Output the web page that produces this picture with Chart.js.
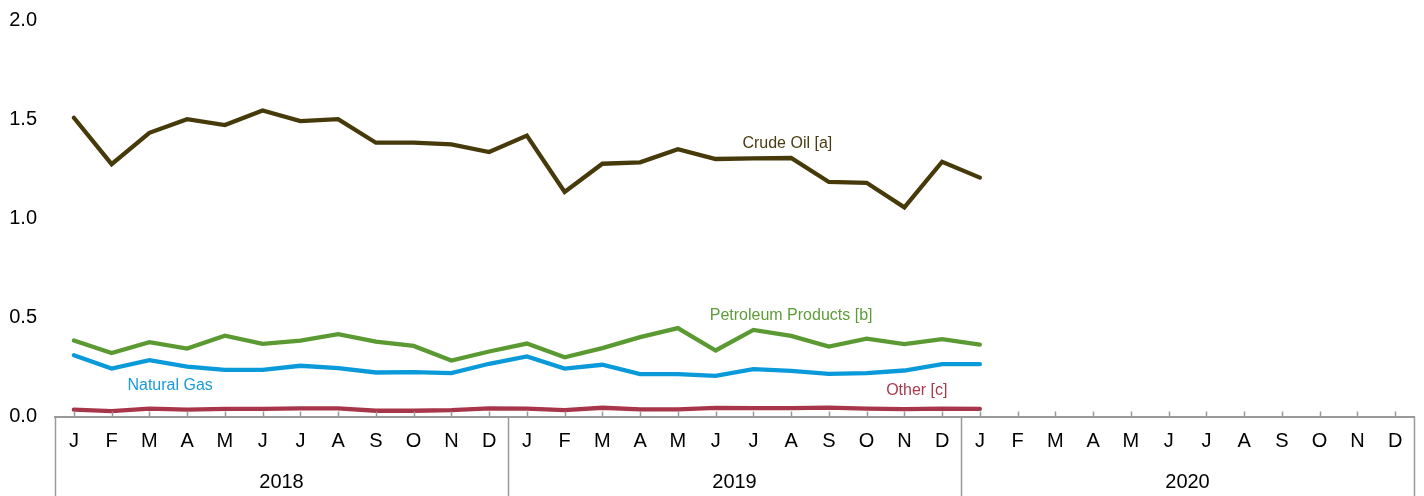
<!DOCTYPE html>
<html>
<head>
<meta charset="utf-8">
<script src="https://cdn.jsdelivr.net/npm/chart.js@4.4.1/dist/chart.umd.min.js"></script>
<style>
  html, body { margin: 0; padding: 0; background: #fff; }
  #wrap { width: 1424px; height: 496px; }
</style>
</head>
<body>
<div id="wrap"><canvas id="c" width="1424" height="496"></canvas></div>
<script>
const monthLetters = ['J','F','M','A','M','J','J','A','S','O','N','D'];
const years = ['2018', '2019', '2020'];
const categories = [];
years.forEach(y => monthLetters.forEach(m => categories.push(m)));

const crudeOil = [1.507, 1.273, 1.431, 1.500, 1.470, 1.544, 1.490, 1.500, 1.381, 1.381, 1.373, 1.334,
                  1.417, 1.133, 1.275, 1.282, 1.348, 1.299, 1.302, 1.304, 1.183, 1.179, 1.055, 1.285,
                  1.205];
const petroleumProducts = [0.383, 0.320, 0.375, 0.343, 0.408, 0.366, 0.383, 0.415, 0.378, 0.356, 0.282, 0.328,
                  0.368, 0.299, 0.345, 0.400, 0.446, 0.333, 0.437, 0.407, 0.353, 0.393, 0.365, 0.390,
                  0.363];
const naturalGas = [0.309, 0.242, 0.284, 0.252, 0.235, 0.235, 0.256, 0.244, 0.222, 0.224, 0.219, 0.266,
                  0.303, 0.242, 0.261, 0.214, 0.214, 0.205, 0.239, 0.230, 0.215, 0.219, 0.232, 0.264,
                  0.264];
const other = [0.035, 0.027, 0.040, 0.035, 0.038, 0.038, 0.041, 0.041, 0.029, 0.029, 0.032, 0.041,
               0.040, 0.032, 0.044, 0.036, 0.036, 0.044, 0.042, 0.042, 0.045, 0.040, 0.037, 0.040,
               0.038];
const yTicks = [0, 0.5, 1.0, 1.5, 2.0];

const seriesLabels = [
  { text: 'Crude Oil [a]', color: '#4a3c12', x: 18.9, y: 1.375 },
  { text: 'Petroleum Products [b]', color: '#5e9c38', x: 19.0, y: 0.507 },
  { text: 'Natural Gas', color: '#1a9ad8', x: 2.55, y: 0.155 },
  { text: 'Other [c]', color: '#a83a4e', x: 22.33, y: 0.13 }
];

const FONT = '"Liberation Sans", Arial, sans-serif';

const decorPlugin = {
  id: 'decor',
  afterDraw(chart) {
    const ctx = chart.ctx;
    const xs = chart.scales.x, ys = chart.scales.y;
    const area = chart.chartArea;
    const bottomY = area.bottom;
    ctx.save();
    ctx.strokeStyle = '#999';
    ctx.lineWidth = 1.5;
    for (let i = 0; i < categories.length; i++) {
      const px = Math.round(xs.getPixelForTick(i)) + 0.5;
      ctx.beginPath();
      ctx.moveTo(px, bottomY);
      ctx.lineTo(px, bottomY - 5);
      ctx.stroke();
    }
    const seps = [area.left];
    for (let k = 1; k < years.length; k++) {
      seps.push((xs.getPixelForValue(k * 12 - 1) + xs.getPixelForValue(k * 12)) / 2);
    }
    seps.push(area.right);
    ctx.lineWidth = 1.5;
    seps.forEach(sx => {
      const px = Math.round(sx) + 0.5;
      ctx.beginPath();
      ctx.moveTo(px, bottomY);
      ctx.lineTo(px, chart.height);
      ctx.stroke();
    });
    ctx.fillStyle = '#000';
    ctx.font = '20px ' + FONT;
    ctx.textAlign = 'center';
    ctx.textBaseline = 'middle';
    years.forEach((y, k) => {
      const cx = (seps[k] + seps[k + 1]) / 2;
      ctx.fillText(y, cx, bottomY + 66);
    });
    ctx.font = '16px ' + FONT;
    seriesLabels.forEach(l => {
      ctx.fillStyle = l.color;
      ctx.fillText(l.text, xs.getPixelForValue(l.x), ys.getPixelForValue(l.y));
    });
    ctx.restore();
  }
};

const common = { pointRadius: 0, borderWidth: 4.3, tension: 0, fill: false, borderCapStyle: 'round', borderJoinStyle: 'miter' };

new Chart(document.getElementById('c'), {
  type: 'line',
  data: {
    labels: categories,
    datasets: [
      Object.assign({ label: 'Other [c]', data: other, borderColor: '#a8364a' }, common),
      Object.assign({ label: 'Natural Gas', data: naturalGas, borderColor: '#0b9ad9' }, common),
      Object.assign({ label: 'Petroleum Products [b]', data: petroleumProducts, borderColor: '#5b9a32' }, common),
      Object.assign({ label: 'Crude Oil [a]', data: crudeOil, borderColor: '#463a0b' }, common)
    ]
  },
  options: {
    responsive: false,
    animation: false,
    layout: { padding: { top: 20, right: 10, left: 0, bottom: 0 } },
    plugins: { legend: { display: false }, tooltip: { enabled: false } },
    scales: {
      x: {
        offset: true,
        grid: { display: false, drawTicks: false },
        border: { display: true, color: '#999', width: 2 },
        ticks: { color: '#000', font: { size: 20, family: FONT }, padding: 13, maxRotation: 0, autoSkip: false },
        afterFit(scale) { scale.height = 79.5; scale.paddingLeft = 0; scale.paddingRight = 0; }
      },
      y: {
        min: 0, max: 2,
        afterBuildTicks(scale) { scale.ticks = yTicks.map(v => ({ value: v })); },
        grid: { display: false, drawTicks: false },
        border: { display: false },
        ticks: { color: '#000', font: { size: 20, family: FONT }, padding: 18,
                 callback: v => Number(v).toFixed(1) },
        afterFit(scale) { scale.width = 55; scale.paddingTop = 0; scale.paddingBottom = 0; }
      }
    }
  },
  plugins: [decorPlugin]
});
</script>
</body>
</html>
